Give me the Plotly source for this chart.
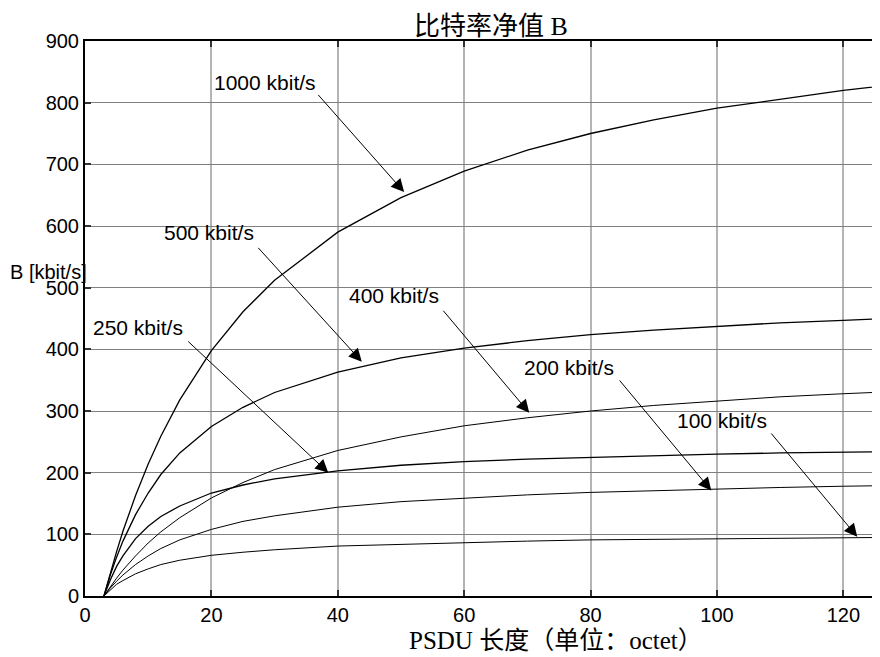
import plotly.graph_objects as go

# PSDU length (octets)
psdu = [3, 4, 5, 6, 8, 10, 12, 15, 20, 25, 30, 40, 50, 60, 70, 80, 90, 100, 110, 120, 127]

# Net bit rate B [kbit/s]
b_1000 = [0, 37, 72, 105, 163, 214, 259, 318, 398, 461, 512, 590, 646, 689, 723, 750, 772, 791, 806, 820, 828]
b_500 = [0, 34, 63, 89, 132, 167, 197, 232, 275, 306, 330, 363, 386, 402, 414, 424, 431, 437, 443, 447, 450]
b_400 = [0, 15, 29, 42, 65, 86, 104, 127, 159, 184, 205, 236, 258, 276, 289, 300, 309, 316, 323, 328, 331]
b_250 = [0, 26, 48, 65, 93, 113, 129, 146, 167, 180, 190, 203, 212, 218, 222, 225, 228, 230, 232, 233, 234]
b_200 = [0, 13, 24, 34, 51, 65, 77, 91, 108, 121, 130, 144, 153, 159, 164, 168, 171, 174, 176, 178, 179]
b_100 = [0, 10, 19, 25, 36, 44, 51, 58, 66, 71, 75, 81, 84, 87, 89, 91, 92, 93, 94, 95, 95]

series = [b_1000, b_500, b_400, b_250, b_200, b_100]
widths = [1.3, 1.3, 1.0, 1.3, 1.0, 1.0]

# Labels and arrow positions (data coords)
labels = ["1000 kbit/s", "500 kbit/s", "400 kbit/s", "250 kbit/s", "200 kbit/s", "100 kbit/s"]
label_x = [20.1, 12.2, 41.5, 0.95, 69.2, 93.4]
label_y = [833, 589, 487, 436, 370, 285]
arrow_from_x = [36.7, 27.2, 56.5, 16.1, 84.4, 108.4]
arrow_from_y = [815, 567, 465, 415, 352, 266]
arrow_to_x = [50.5, 43.8, 70.3, 38.5, 99.1, 122.2]
arrow_to_y = [655, 380, 297, 200, 171, 96]

x_ticks = [0, 20, 40, 60, 80, 100, 120]
y_ticks = [0, 100, 200, 300, 400, 500, 600, 700, 800, 900]

fig = go.Figure()
for s, w in zip(series, widths):
    fig.add_trace(go.Scatter(x=psdu, y=s, mode="lines",
                             line=dict(color="black", width=w),
                             showlegend=False, hoverinfo="skip"))

sans = "Liberation Sans, Arial, sans-serif"
serif = "Liberation Serif, Times New Roman, Noto Sans CJK SC, serif"

annotations = []
for t, lx, ly in zip(labels, label_x, label_y):
    annotations.append(dict(x=lx, y=ly, xref="x", yref="y", text=t, showarrow=False,
                            xanchor="left", yanchor="middle",
                            font=dict(family=sans, size=21, color="black")))
for fx, fy, tx, ty in zip(arrow_from_x, arrow_from_y, arrow_to_x, arrow_to_y):
    annotations.append(dict(x=tx, y=ty, xref="x", yref="y", ax=fx, ay=fy,
                            axref="x", ayref="y", text="", showarrow=True,
                            arrowhead=2, arrowsize=2.6, arrowwidth=1,
                            arrowcolor="black"))

annotations.append(dict(x=0.5107, y=1.027, xref="paper", yref="paper",
                        text="比特率净值 B", showarrow=False,
                        xanchor="center", yanchor="middle",
                        font=dict(family=serif, size=26, color="black")))
annotations.append(dict(x=0.593, y=-0.081, xref="paper", yref="paper",
                        text="PSDU 长度（单位：octet）", showarrow=False,
                        xanchor="center", yanchor="middle",
                        font=dict(family=serif, size=25, color="black")))
annotations.append(dict(x=-0.0969, y=0.5838, xref="paper", yref="paper",
                        text="B [kbit/s]", showarrow=False,
                        xanchor="left", yanchor="middle",
                        font=dict(family=sans, size=20, color="black")))

# page body adds an 8px offset, so the figure is 8px smaller and shifted
fig.update_layout(
    width=872, height=649,
    margin=dict(l=77, r=0, t=33, b=61),
    paper_bgcolor="white", plot_bgcolor="white",
    annotations=annotations,
    xaxis=dict(range=[0, 125.8], tickvals=x_ticks, ticks="inside", ticklen=6,
               tickcolor="#333", tickwidth=1.5, showgrid=True, gridcolor="#b4b4b4",
               gridwidth=1.5, zeroline=False, showline=True, linecolor="black",
               linewidth=2, mirror="ticks",
               tickfont=dict(family=sans, size=20, color="black")),
    yaxis=dict(range=[0, 900], tickvals=y_ticks, ticks="inside", ticklen=6,
               tickcolor="#333", tickwidth=1.5, showgrid=True, gridcolor="#808080",
               gridwidth=1, zeroline=False, showline=True, linecolor="black",
               linewidth=2, mirror=False,
               tickfont=dict(family=sans, size=20, color="black")),
)

fig.write_html("out.html")
